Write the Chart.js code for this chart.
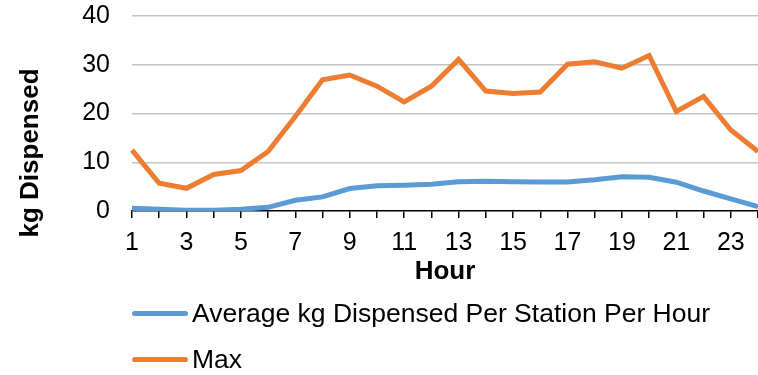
<!DOCTYPE html>
<html>
<head>
<meta charset="utf-8">
<script src="https://cdn.jsdelivr.net/npm/chart.js@4"></script>
<style>
  html, body { margin: 0; padding: 0; background: #fff; }
  #wrap { position: relative; width: 758px; height: 375px; }
  #legend { position: absolute; left: 0; top: 0; font-family: "Liberation Sans", Arial, sans-serif; font-size: 26.5px; color: #000; }
  .item { position: absolute; left: 130px; white-space: nowrap; height: 30px; line-height: 30px; }
  .swatch { position: absolute; left: 2px; top: 12.5px; width: 56px; height: 5px; border-radius: 3px; }
  .lbl { position: absolute; left: 62px; top: 0; }
</style>
</head>
<body>
<div id="wrap">
  <canvas id="chart" width="758" height="375"></canvas>
  <div id="legend"></div>
</div>
<script>
/* eslint-disable no-undef */
const hours = ['1', '2', '3', '4', '5', '6', '7', '8', '9', '10', '11', '12',
  '13', '14', '15', '16', '17', '18', '19', '20', '21', '22', '23', '24'];
const avgKg = [0.55, 0.35, 0.15, 0.15, 0.35, 0.75, 2.2, 2.9, 4.6, 5.2, 5.3, 5.5,
  6.0, 6.1, 6.0, 5.95, 5.95, 6.4, 7.0, 6.9, 5.9, 4.1, 2.5, 0.9];
const maxKg = [12.5, 5.7, 4.65, 7.5, 8.3, 12.2, 19.4, 26.9, 27.9, 25.6, 22.4, 25.6,
  31.1, 24.6, 24.1, 24.4, 30.1, 30.6, 29.3, 31.9, 20.4, 23.5, 16.6, 12.2];
const yTicks = [0, 10, 20, 30, 40];

const fontFamily = '"Liberation Sans", Arial, sans-serif';
const ctx = document.getElementById('chart');

// y title drawn by hand, it sits lower than the axis centre
const yTitle = {
  id: 'yTitle',
  afterDraw(chart) {
    const c = chart.ctx;
    c.save();
    c.translate(31, 153);
    c.rotate(-Math.PI / 2);
    c.font = 'bold 26px ' + fontFamily;
    c.fillStyle = '#000';
    c.textAlign = 'center';
    c.textBaseline = 'middle';
    c.fillText('kg Dispensed', 0, 0);
    c.restore();
  },
};

const chart = new Chart(ctx, {
  type: 'line',
  data: {
    labels: hours,
    datasets: [{
      label: 'Average kg Dispensed Per Station Per Hour',
      data: avgKg,
      borderColor: '#5b9bd5',
      backgroundColor: '#5b9bd5',
      borderWidth: 5,
      pointRadius: 0,
      tension: 0,
      fill: false,
    },
    {
      label: 'Max',
      data: maxKg,
      borderColor: '#ed7d31',
      backgroundColor: '#ed7d31',
      borderWidth: 5,
      pointRadius: 0,
      tension: 0,
      fill: false,
    },
    ],
  },
  options: {
    responsive: false,
    animation: false,
    layout: { padding: { top: 16, right: 0, bottom: 84, left: 0 } },
    plugins: {
      legend: { display: false },
      tooltip: { enabled: false },
    },
    scales: {
      x: {
        offset: false,
        afterFit: (s) => { s.height = 80; s.paddingLeft = 0; s.paddingRight = 0; },
        grid: {
          drawOnChartArea: false,
          drawTicks: true,
          tickLength: 7,
          color: '#000',
          lineWidth: 1.5,
        },
        border: { color: '#000', width: 1.5 },
        ticks: {
          autoSkip: false,
          maxRotation: 0,
          padding: 10,
          color: '#000',
          font: { family: fontFamily, size: 25 },
          callback: (v, i) => (i % 2 === 0 ? hours[i] : ''),
        },
        title: {
          display: true,
          text: 'Hour',
          color: '#000',
          font: { family: fontFamily, size: 26, weight: 'bold' },
          padding: { top: 0, bottom: 4 },
        },
      },
      y: {
        min: yTicks[0],
        max: yTicks[yTicks.length - 1],
        afterFit: (s) => { s.width = 132; s.paddingTop = 0; s.paddingBottom = 0; },
        afterBuildTicks: (s) => { s.ticks = yTicks.map((v) => ({ value: v })); },
        grid: {
          drawTicks: false,
          color: (c) => (c.tick && c.tick.value === 0 ? 'rgba(0,0,0,0)' : '#c4c4c4'),
          lineWidth: 1.5,
        },
        border: { display: false },
        ticks: {
          padding: 22,
          color: '#000',
          font: { family: fontFamily, size: 25 },
        },
      },
    },
  },
  plugins: [yTitle],
});

// legend built from the chart's own datasets, stacked as in the picture
const legendTops = [298, 344];
const legendEl = document.getElementById('legend');
chart.data.datasets.forEach((ds, i) => {
  const item = document.createElement('div');
  item.className = 'item';
  item.style.top = legendTops[i] + 'px';
  const sw = document.createElement('span');
  sw.className = 'swatch';
  sw.style.background = ds.borderColor;
  const lbl = document.createElement('span');
  lbl.className = 'lbl';
  lbl.textContent = ds.label;
  item.appendChild(sw);
  item.appendChild(lbl);
  legendEl.appendChild(item);
});
</script>
</body>
</html>
